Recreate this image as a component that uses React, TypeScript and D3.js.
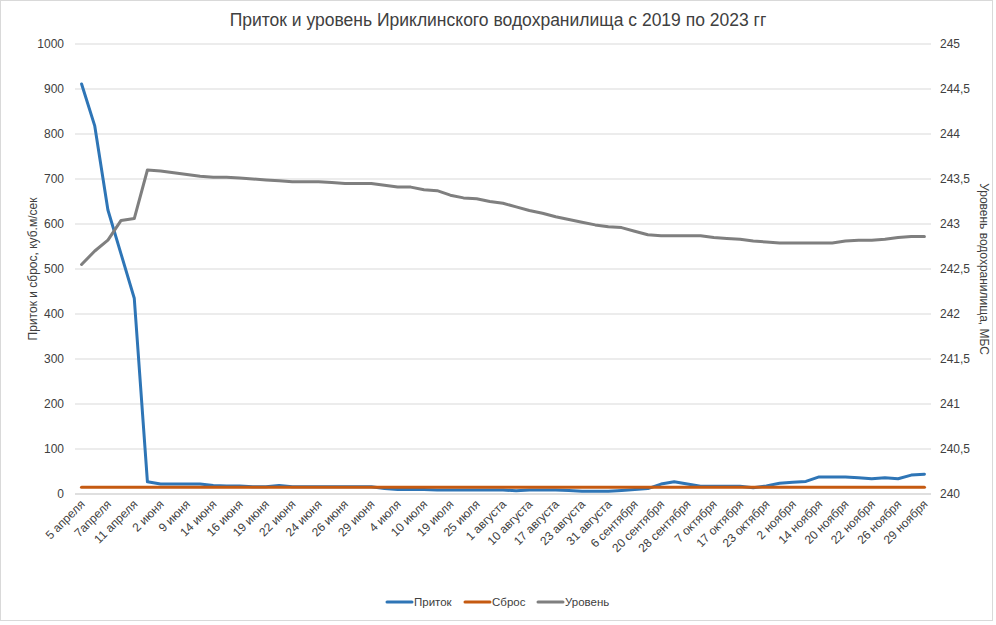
import React from "react";
import * as d3 from "d3";

const xLabels = ["5 апреля","7апреля","11 апреля","2 июня","9 июня","14 июня","16 июня","19 июня","22 июня","24 июня","26 июня","29 июня","4 июля","10 июля","19 июля","25 июля","1 августа","10 августа","17 августа","23 августа","31 августа","6 сентября","20 сентября","28 сентября","7 октября","17 октября","23 октября","2 ноября","14 ноября","20 ноября","22 ноября","26 ноября","29 ноября"];

const inflow = [911,818,631,533,435,27,22,22,22,22,19,18,18,16,16,19,16,16,16,16,16,16,16,12,10,10,10,9,9,9,9,9,9,7,9,9,9,8,6,6,6,8,10,12,22,27,22,17,17,17,17,14,18,24,26,28,38,38,38,36,34,36,34,42,44];
const discharge = inflow.map(() => 15);
const level = [242.55,242.70,242.82,243.04,243.06,243.60,243.59,243.57,243.55,243.53,243.52,243.52,243.51,243.50,243.49,243.48,243.47,243.47,243.47,243.46,243.45,243.45,243.45,243.43,243.41,243.41,243.38,243.37,243.32,243.29,243.28,243.25,243.23,243.19,243.15,243.12,243.08,243.05,243.02,242.99,242.97,242.96,242.92,242.88,242.87,242.87,242.87,242.87,242.85,242.84,242.83,242.81,242.80,242.79,242.79,242.79,242.79,242.79,242.81,242.82,242.82,242.83,242.85,242.86,242.86];

const leftTicks = [0,100,200,300,400,500,600,700,800,900,1000];
const rightTicks = [240,240.5,241,241.5,242,242.5,243,243.5,244,244.5,245];

const W = 996, H = 625;
const L = 75, R = 931, T = 44, B = 494;
const font = "'Liberation Sans', Arial, sans-serif";
const txt = "#404040";

export default function App() {
  const n = inflow.length;
  const x = d3.scaleBand<number>().domain(d3.range(n)).range([L, R]);
  const cx = (i: number) => (x(i) as number) + x.bandwidth() / 2;
  const yL = d3.scaleLinear().domain([0, 1000]).range([B, T]);
  const yR = d3.scaleLinear().domain([240, 245]).range([B, T]);
  const lineL = d3.line<number>().x((_, i) => cx(i)).y((d) => yL(d));
  const lineR = d3.line<number>().x((_, i) => cx(i)).y((d) => yR(d));
  const fmtR = (v: number) => String(v).replace(".", ",");
  const legend = [
    { name: "Приток", color: "#2e75b6", x: 387 },
    { name: "Сброс", color: "#c55a11", x: 465 },
    { name: "Уровень", color: "#7f7f7f", x: 538 },
  ];
  return (
    <div style={{ position: "fixed", left: 0, top: 0 }}>
      <svg width={W} height={H} style={{ display: "block", background: "#fff" }}>
        <rect x={0.5} y={0.5} width={W - 4} height={H - 5} fill="#fff" stroke="#d9d9d9" />
        <text x={498} y={26} textAnchor="middle" fontFamily={font} fontSize={17.5} fill={txt}>
          Приток и уровень Ириклинского водохранилища с 2019 по 2023 гг
        </text>
        {leftTicks.map((t) => (
          <line key={t} x1={L} x2={R} y1={yL(t)} y2={yL(t)} stroke={t === 0 ? "#bfbfbf" : "#d9d9d9"} strokeWidth={1} />
        ))}
        {leftTicks.map((t) => (
          <text key={"l" + t} x={64} y={yL(t) + 4} textAnchor="end" fontFamily={font} fontSize={12} fill={txt}>{t}</text>
        ))}
        {rightTicks.map((t) => (
          <text key={"r" + t} x={940} y={yR(t) + 4} textAnchor="start" fontFamily={font} fontSize={12} fill={txt}>{fmtR(t)}</text>
        ))}
        <text transform={`translate(37,${(T + B) / 2}) rotate(-90)`} textAnchor="middle" fontFamily={font} fontSize={12} fill={txt}>
          Приток и сброс, куб.м/сек
        </text>
        <text transform={`translate(980,${(T + B) / 2}) rotate(90)`} textAnchor="middle" fontFamily={font} fontSize={12} fill={txt}>
          Уровень водохранилища, МБС
        </text>
        {xLabels.map((lab, k) => (
          <text key={lab + k} transform={`translate(${cx(k * 2) + 4},${B + 11}) rotate(-45)`} textAnchor="end" fontFamily={font} fontSize={12} fill={txt}>
            {lab}
          </text>
        ))}
        <path d={lineL(inflow) || ""} fill="none" stroke="#2e75b6" strokeWidth={3} strokeLinejoin="round" strokeLinecap="round" />
        <path d={lineL(discharge) || ""} fill="none" stroke="#c55a11" strokeWidth={3.2} strokeLinejoin="round" strokeLinecap="round" />
        <path d={lineR(level) || ""} fill="none" stroke="#7f7f7f" strokeWidth={3} strokeLinejoin="round" strokeLinecap="round" />
        {legend.map((l) => (
          <g key={l.name}>
            <line x1={l.x} x2={l.x + 25} y1={602} y2={602} stroke={l.color} strokeWidth={3} strokeLinecap="round" />
            <text x={l.x + 27} y={606} fontFamily={font} fontSize={11.5} fill={txt}>{l.name}</text>
          </g>
        ))}
      </svg>
    </div>
  );
}
